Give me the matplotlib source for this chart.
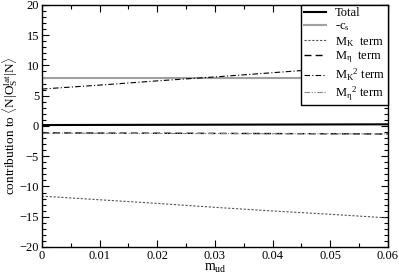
import matplotlib
matplotlib.use("Agg")
import matplotlib.pyplot as plt
from matplotlib.ticker import MultipleLocator

plt.rcParams['font.family'] = ['Liberation Serif', 'DejaVu Serif']
plt.rcParams['mathtext.fontset'] = 'custom'
plt.rcParams['mathtext.rm'] = 'Liberation Serif'
plt.rcParams['mathtext.it'] = 'Liberation Serif'

m_ud = [0.0, 0.01, 0.02, 0.03, 0.04, 0.05, 0.06]
total = [0.15, 0.17, 0.19, 0.21, 0.23, 0.25, 0.27]
minus_cs = [7.9, 7.9, 7.9, 7.9, 7.9, 7.9, 7.9]
mk_term = [-11.6, -12.2, -12.8, -13.45, -14.05, -14.6, -15.2]
meta_term = [-1.15, -1.18, -1.2, -1.23, -1.26, -1.29, -1.33]
mk2_term = [6.1, 6.75, 7.45, 8.1, 8.8, 9.5, 10.2]
meta2_term = [-1.2, -1.22, -1.24, -1.26, -1.28, -1.3, -1.32]
xtick_labels = ['0', '0.01', '0.02', '0.03', '0.04', '0.05', '0.06']

fig = plt.figure(figsize=(3.99, 2.75), dpi=100)
ax = fig.add_axes([0.105, 0.102, 0.867, 0.880])

ax.plot(m_ud, total, color='black', lw=1.5, label='Total')
ax.plot(m_ud, minus_cs, color='#a0a0a0', lw=1.5, label=r'-c$_\mathrm{s}$')
ax.plot(m_ud, mk_term, color='#555555', lw=0.8, dashes=(2, 1.5), label=r'M$_\mathrm{K}$  term')
ax.plot(m_ud, meta_term, color='black', lw=1.0, dashes=(5, 3), label=r'M$_\mathrm{\eta}$  term')
ax.plot(m_ud, mk2_term, color='black', lw=0.8, dashes=(5, 2, 1, 2), label=r'M$_\mathrm{K}$$^\mathrm{2}$ term')
ax.plot(m_ud, meta2_term, color='#888888', lw=0.8, dashes=(5, 1.5, 1, 1.5, 1, 1.5), label=r'M$_\mathrm{\eta}$$^\mathrm{2}$ term')

ax.set_xlim(0, 0.06)
ax.set_ylim(-20, 20)
ax.set_xticks(m_ud)
ax.set_xticklabels(xtick_labels)
ax.xaxis.set_minor_locator(MultipleLocator(0.005))
ax.yaxis.set_major_locator(MultipleLocator(5))
ax.yaxis.set_minor_locator(MultipleLocator(1))
ax.tick_params(which='both', direction='in', top=True, right=True, labelsize=9, pad=2)
ax.tick_params(which='major', length=5, width=0.8)
ax.tick_params(which='minor', length=3, width=0.8)
for s in ax.spines.values():
    s.set_linewidth(1.0)

ax.set_xlabel(r'm$_\mathrm{ud}$', fontsize=10, labelpad=0)
ax.set_ylabel(r'contribution to $\langle$N|O$_\mathrm{S}^\mathrm{lat}$|N$\rangle$', fontsize=9.5)
ax.yaxis.set_label_coords(-0.062, 0.5)

leg = ax.legend(loc='upper right', fontsize=9, frameon=True, fancybox=False,
                edgecolor='black', framealpha=1, borderaxespad=0,
                handlelength=1.8, labelspacing=0.1, borderpad=0.2, handletextpad=0.7)
leg.get_frame().set_linewidth(1.0)

fig.savefig('out.png', dpi=100)
